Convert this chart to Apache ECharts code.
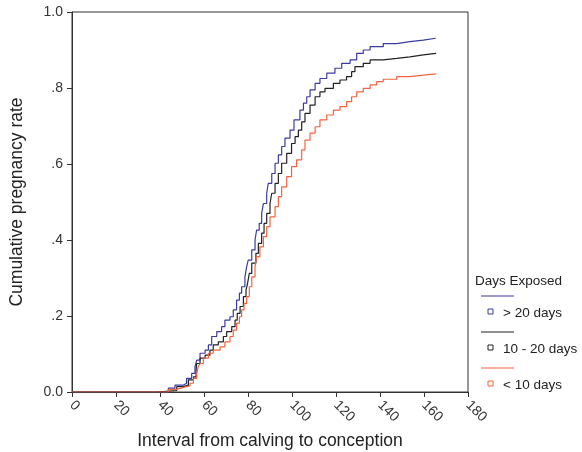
<!DOCTYPE html>
<html>
<head>
<meta charset="utf-8">
<script src="https://cdn.jsdelivr.net/npm/echarts@6/dist/echarts.min.js"></script>
<style>
  html, body { margin: 0; padding: 0; background: #fff; }
  #chart { width: 582px; height: 452px; }
</style>
</head>
<body>
<div id="chart"></div>
<script>
// days since calving and cumulative rate
const daysHigh = [0, 38.0, 43.8, 46.8, 50.6, 52.1, 54.4, 55.9, 56.7, 58.2, 60.5, 62.0, 63.5, 65.8, 68.0, 69.5, 71.8, 73.3, 74.8, 76.1, 77.1, 78.6, 79.4, 80.1, 81.7, 83.2, 83.9, 85.1, 86.2, 87.0, 88.5, 89.2, 90.8, 92.3, 93.8, 95.3, 96.8, 99.1, 100.9, 103.6, 105.2, 106.7, 108.2, 110.5, 112.7, 115.8, 119.5, 122.6, 126.4, 129.4, 132.4, 135.5, 141.5, 147.6, 153.6, 159.7, 165.3];
const rateHigh = [0, 0, 0.010, 0.018, 0.023, 0.036, 0.049, 0.067, 0.084, 0.102, 0.110, 0.124, 0.146, 0.159, 0.172, 0.189, 0.198, 0.216, 0.242, 0.260, 0.277, 0.303, 0.330, 0.347, 0.374, 0.400, 0.426, 0.444, 0.470, 0.496, 0.523, 0.549, 0.575, 0.602, 0.624, 0.646, 0.668, 0.689, 0.716, 0.742, 0.760, 0.777, 0.795, 0.812, 0.825, 0.839, 0.852, 0.865, 0.874, 0.891, 0.900, 0.909, 0.917, 0.922, 0.926, 0.931, 0.931];

const daysMid = [0, 38.5, 47.6, 50.6, 52.9, 55.2, 56.4, 56.7, 58.2, 60.5, 62.7, 64.2, 66.5, 68.8, 70.3, 72.6, 74.1, 75.1, 76.4, 77.9, 79.1, 79.8, 80.6, 81.7, 83.6, 84.7, 86.2, 87.3, 88.5, 90.0, 90.8, 92.3, 93.8, 95.3, 97.6, 99.8, 101.4, 102.9, 104.4, 105.9, 108.2, 110.5, 112.7, 115.0, 118.8, 121.8, 124.8, 127.1, 128.6, 132.4, 135.5, 141.5, 147.6, 153.6, 159.7, 165.3];
const rateMid = [0, 0.004, 0.014, 0.018, 0.032, 0.040, 0.058, 0.075, 0.089, 0.097, 0.110, 0.124, 0.132, 0.146, 0.159, 0.172, 0.189, 0.207, 0.225, 0.251, 0.268, 0.286, 0.312, 0.339, 0.365, 0.391, 0.418, 0.444, 0.470, 0.496, 0.523, 0.549, 0.575, 0.602, 0.628, 0.654, 0.672, 0.689, 0.711, 0.733, 0.755, 0.777, 0.790, 0.799, 0.812, 0.821, 0.830, 0.843, 0.856, 0.865, 0.874, 0.878, 0.882, 0.887, 0.891, 0.893];

const daysLow = [0, 42.0, 43.8, 47.6, 50.6, 53.6, 55.2, 56.7, 57.4, 58.2, 59.7, 62.0, 64.2, 67.3, 69.5, 71.8, 73.3, 74.8, 76.1, 77.1, 78.2, 79.4, 80.6, 81.7, 83.2, 83.9, 85.4, 87.0, 88.5, 90.0, 92.3, 93.8, 95.3, 97.6, 99.8, 102.1, 104.4, 105.9, 108.2, 110.5, 112.7, 115.8, 118.8, 121.8, 124.8, 127.1, 129.4, 132.4, 135.5, 138.5, 141.5, 147.6, 153.6, 159.7, 165.3];
const rateLow = [0, 0, 0.007, 0.012, 0.016, 0.023, 0.036, 0.049, 0.067, 0.075, 0.089, 0.102, 0.110, 0.119, 0.132, 0.146, 0.163, 0.181, 0.198, 0.216, 0.233, 0.251, 0.277, 0.303, 0.330, 0.356, 0.382, 0.409, 0.435, 0.461, 0.488, 0.514, 0.540, 0.567, 0.593, 0.611, 0.637, 0.663, 0.681, 0.698, 0.716, 0.729, 0.742, 0.751, 0.764, 0.777, 0.790, 0.799, 0.808, 0.817, 0.823, 0.830, 0.834, 0.837, 0.839];

const groupNames = ['> 20 days', '10 - 20 days', '< 10 days'];
const groupColors = ['#3b3ba3', '#222222', '#f26440'];
const yTickLabels = { '0': '0.0', '0.2': '.2', '0.4': '.4', '0.6': '.6', '0.8': '.8', '1': '1.0' };

const pairs = (xs, ys) => xs.map((x, i) => [x, ys[i]]);

const buildSeries = (name, data, color) => ({
  name,
  type: 'line',
  step: 'end',
  data,
  showSymbol: false,
  lineStyle: { width: 1.2, color },
  itemStyle: { color },
  z: 3
});

const legendItems = [];
groupNames.forEach((name, i) => {
  const top = 296 + i * 36;
  legendItems.push(
    { type: 'line', shape: { x1: 481, y1: top, x2: 514, y2: top }, style: { stroke: groupColors[i], lineWidth: 1.2 } },
    { type: 'rect', shape: { x: 488, y: top + 13, width: 5, height: 5 }, style: { fill: '#fff', stroke: groupColors[i], lineWidth: 1 } },
    { type: 'text', x: 503, y: top + 17, style: { text: name, font: '13.5px "Liberation Sans", Arial, sans-serif', fill: '#222', verticalAlign: 'middle' } }
  );
});

const chart = echarts.init(document.getElementById('chart'));
chart.setOption({
  animation: false,
  textStyle: { fontFamily: '"Liberation Sans", Arial, sans-serif' },
  grid: {
    left: 72, right: 114, top: 12, bottom: 60,
    outerBoundsMode: 'none', containLabel: false,
    show: true, borderColor: '#333', borderWidth: 1
  },
  xAxis: {
    type: 'value',
    min: 0,
    max: 180,
    interval: 20,
    name: 'Interval from calving to conception',
    nameLocation: 'middle',
    nameGap: 40,
    nameTextStyle: { fontSize: 17.5, color: '#222' },
    axisLine: { lineStyle: { color: '#333' } },
    axisTick: { lineStyle: { color: '#333' }, length: 5 },
    axisLabel: { rotate: -45, fontSize: 14, color: '#333', margin: 11 },
    splitLine: { show: false }
  },
  yAxis: {
    type: 'value',
    min: 0,
    max: 1,
    interval: 0.2,
    name: 'Cumulative pregnancy rate',
    nameLocation: 'middle',
    nameGap: 46,
    nameTextStyle: { fontSize: 17.5, color: '#222' },
    axisLine: { lineStyle: { color: '#333' } },
    axisTick: { show: true, lineStyle: { color: '#333' }, length: 5 },
    axisLabel: { fontSize: 14, color: '#333', margin: 9, formatter: (v) => yTickLabels[String(+v.toFixed(1))] },
    splitLine: { show: false }
  },
  series: [
    buildSeries(groupNames[0], pairs(daysHigh, rateHigh), groupColors[0]),
    buildSeries(groupNames[1], pairs(daysMid, rateMid), groupColors[1]),
    buildSeries(groupNames[2], pairs(daysLow, rateLow), groupColors[2])
  ],
  graphic: [
    { type: 'text', x: 475, y: 281, style: { text: 'Days Exposed', font: '13.5px "Liberation Sans", Arial, sans-serif', fill: '#222', verticalAlign: 'middle' } },
    ...legendItems
  ]
});
</script>
</body>
</html>
